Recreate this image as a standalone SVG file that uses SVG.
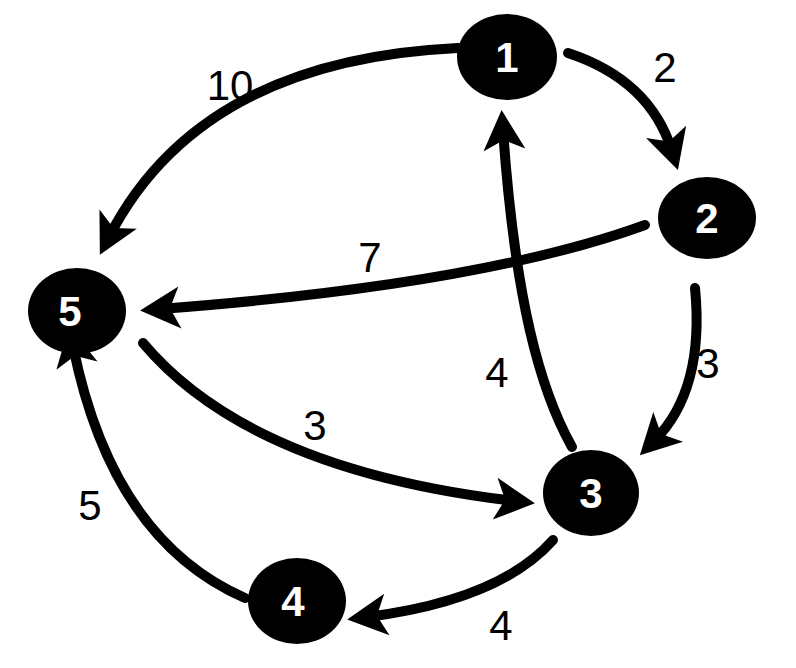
<svg xmlns="http://www.w3.org/2000/svg" width="796" height="668" viewBox="0 0 796 668">
<style>
.edge{fill:none;stroke:#000;stroke-width:10;stroke-linecap:round;marker-end:url(#ah)}
.node ellipse{fill:#000}
.node text{fill:#fff;font-family:"Liberation Sans",Arial,sans-serif;font-weight:bold;font-size:42px;text-anchor:middle}
.lbl{fill:#000;font-family:"Liberation Sans",Arial,sans-serif;font-size:42px;text-anchor:middle}
</style>
<defs>
<marker id="ah" markerUnits="userSpaceOnUse" markerWidth="46" markerHeight="46" refX="22" refY="23" orient="auto">
<path d="M2,2 L42,23 L2,44 L12,23 z" fill="#000"/>
</marker>
</defs>
<rect width="796" height="668" fill="#fff"/>
<g id="connectors">
<path class="edge" d="M568,53 Q650,80 672,151"/>
<path class="edge" d="M458,48 Q200,60 109,237"/>
<path class="edge" d="M645,225 Q480,285 160,309"/>
<path class="edge" d="M572,447 C540,390 515,300 503,130"/>
<path class="edge" d="M695,288 Q705,390 654,441"/>
<path class="edge" d="M143,343 Q250,470 515,501"/>
<path class="edge" d="M553,540 Q500,600 367,617"/>
<path class="edge" d="M245,598 Q112,540 73,346"/>
</g>
<g id="labels">
<text class="lbl" x="665" y="82">2</text>
<text class="lbl" x="230" y="100">10</text>
<text class="lbl" x="370" y="272">7</text>
<text class="lbl" x="497" y="387">4</text>
<text class="lbl" x="708" y="378">3</text>
<text class="lbl" x="315" y="440">3</text>
<text class="lbl" x="90" y="520">5</text>
<text class="lbl" x="501" y="640">4</text>
</g>
<g id="node1" class="node"><ellipse cx="507" cy="57" rx="50" ry="43"/><text x="507" y="72">1</text></g>
<g id="node2" class="node"><ellipse cx="707" cy="218" rx="49" ry="41"/><text x="707" y="233">2</text></g>
<g id="node3" class="node"><ellipse cx="591" cy="493" rx="48" ry="43"/><text x="591" y="508">3</text></g>
<g id="node4" class="node"><ellipse cx="297" cy="601" rx="49" ry="43"/><text x="293" y="616">4</text></g>
<g id="node5" class="node"><ellipse cx="77" cy="311" rx="49" ry="43"/><text x="70" y="326">5</text></g>
</svg>
